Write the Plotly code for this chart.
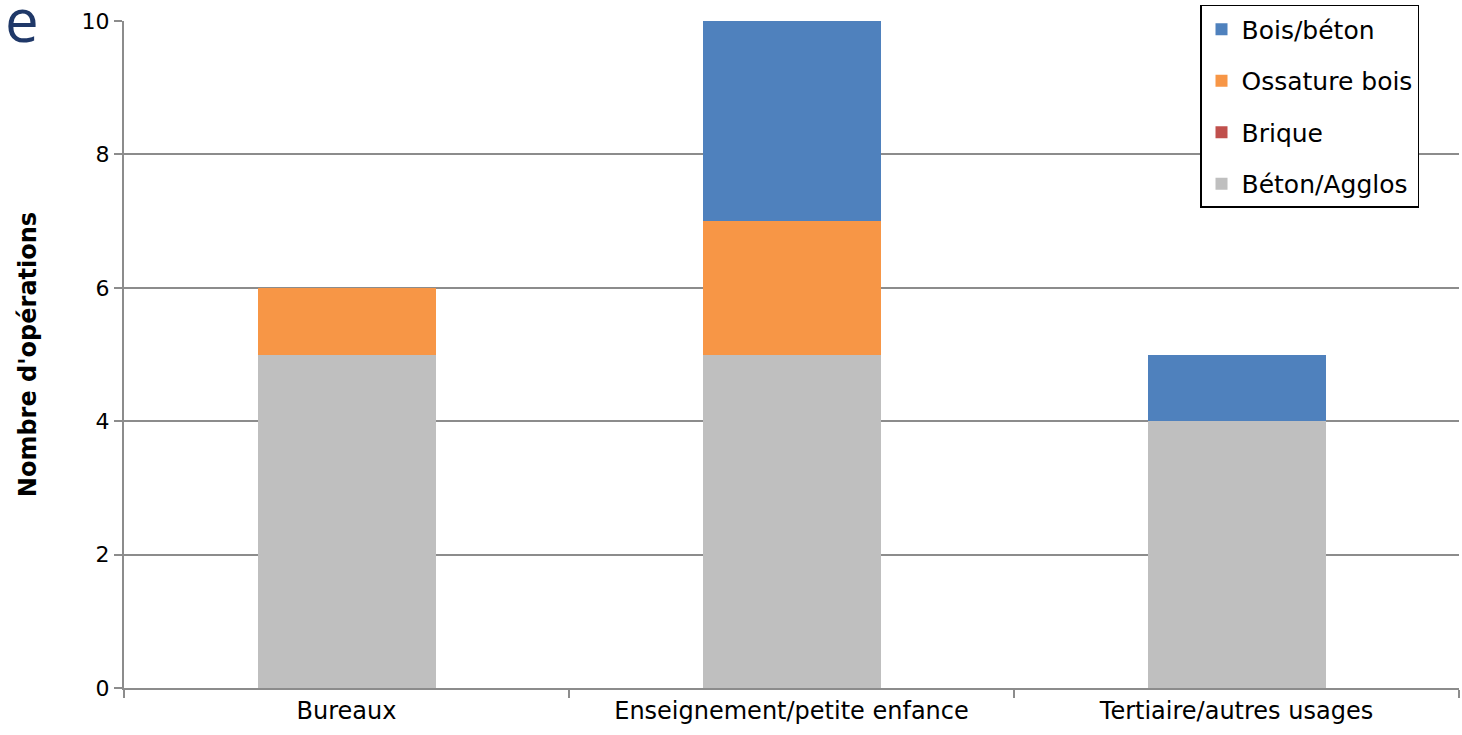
import plotly.graph_objects as go

# Categories and stacked series (number of operations)
categories = ["Bureaux", "Enseignement/petite enfance", "Tertiaire/autres usages"]
beton_agglos = [5, 5, 4]
brique = [0, 0, 0]
ossature_bois = [1, 2, 0]
bois_beton = [0, 3, 1]

y_ticks = [0, 2, 4, 6, 8, 10]

# (name, values, colour, legend rank) — stacked bottom to top
series = [
    ("Béton/Agglos", beton_agglos, "#BFBFBF", 4),
    ("Brique", brique, "#C0504D", 3),
    ("Ossature bois", ossature_bois, "#F79646", 2),
    ("Bois/béton", bois_beton, "#4F81BD", 1),
]

fig = go.Figure()
for name, values, color, rank in series:
    fig.add_trace(go.Bar(
        x=categories, y=values, name=name, legendgroup=name, legendrank=rank,
        marker=dict(color=color, line=dict(width=0)),
    ))

axis_grey = "#8C8C8C"
font_family = "DejaVu Sans"

fig.update_layout(
    barmode="stack",
    bargap=0.6,
    width=1462, height=735,
    margin=dict(l=124, r=3, t=21, b=47),
    paper_bgcolor="white", plot_bgcolor="white",
    font=dict(family=font_family, color="black", size=24),
    showlegend=True,
    legend=dict(
        traceorder="grouped",
        x=0.806, y=1.024, xanchor="left", yanchor="top",
        bordercolor="black", borderwidth=1.5, bgcolor="white",
        font=dict(family=font_family, size=25, color="black"),
        tracegroupgap=16,
        itemwidth=30,
    ),
    xaxis=dict(
        showline=True, linecolor=axis_grey, linewidth=2,
        ticks="outside", tickson="boundaries", ticklen=8,
        tickcolor=axis_grey, tickwidth=2,
        tickfont=dict(size=24),
        showgrid=False,
    ),
    yaxis=dict(
        range=[0, 10], tickvals=y_ticks,
        showline=True, linecolor=axis_grey, linewidth=2,
        ticks="outside", ticklen=8, tickcolor=axis_grey, tickwidth=2,
        showgrid=True, gridcolor=axis_grey, gridwidth=1.5,
        zeroline=False,
        tickfont=dict(size=22),
        title=dict(text="<b>Nombre d'opérations</b>", font=dict(size=24), standoff=38),
    ),
)

# Fragment of slide heading text visible at the top-left edge
fig.add_annotation(
    text="e", xref="paper", yref="paper", x=-0.091, y=1.068,
    xanchor="left", yanchor="top", showarrow=False,
    font=dict(family="Open Sans", size=60, color="#1F3868"),
)

fig.write_html("out.html")
